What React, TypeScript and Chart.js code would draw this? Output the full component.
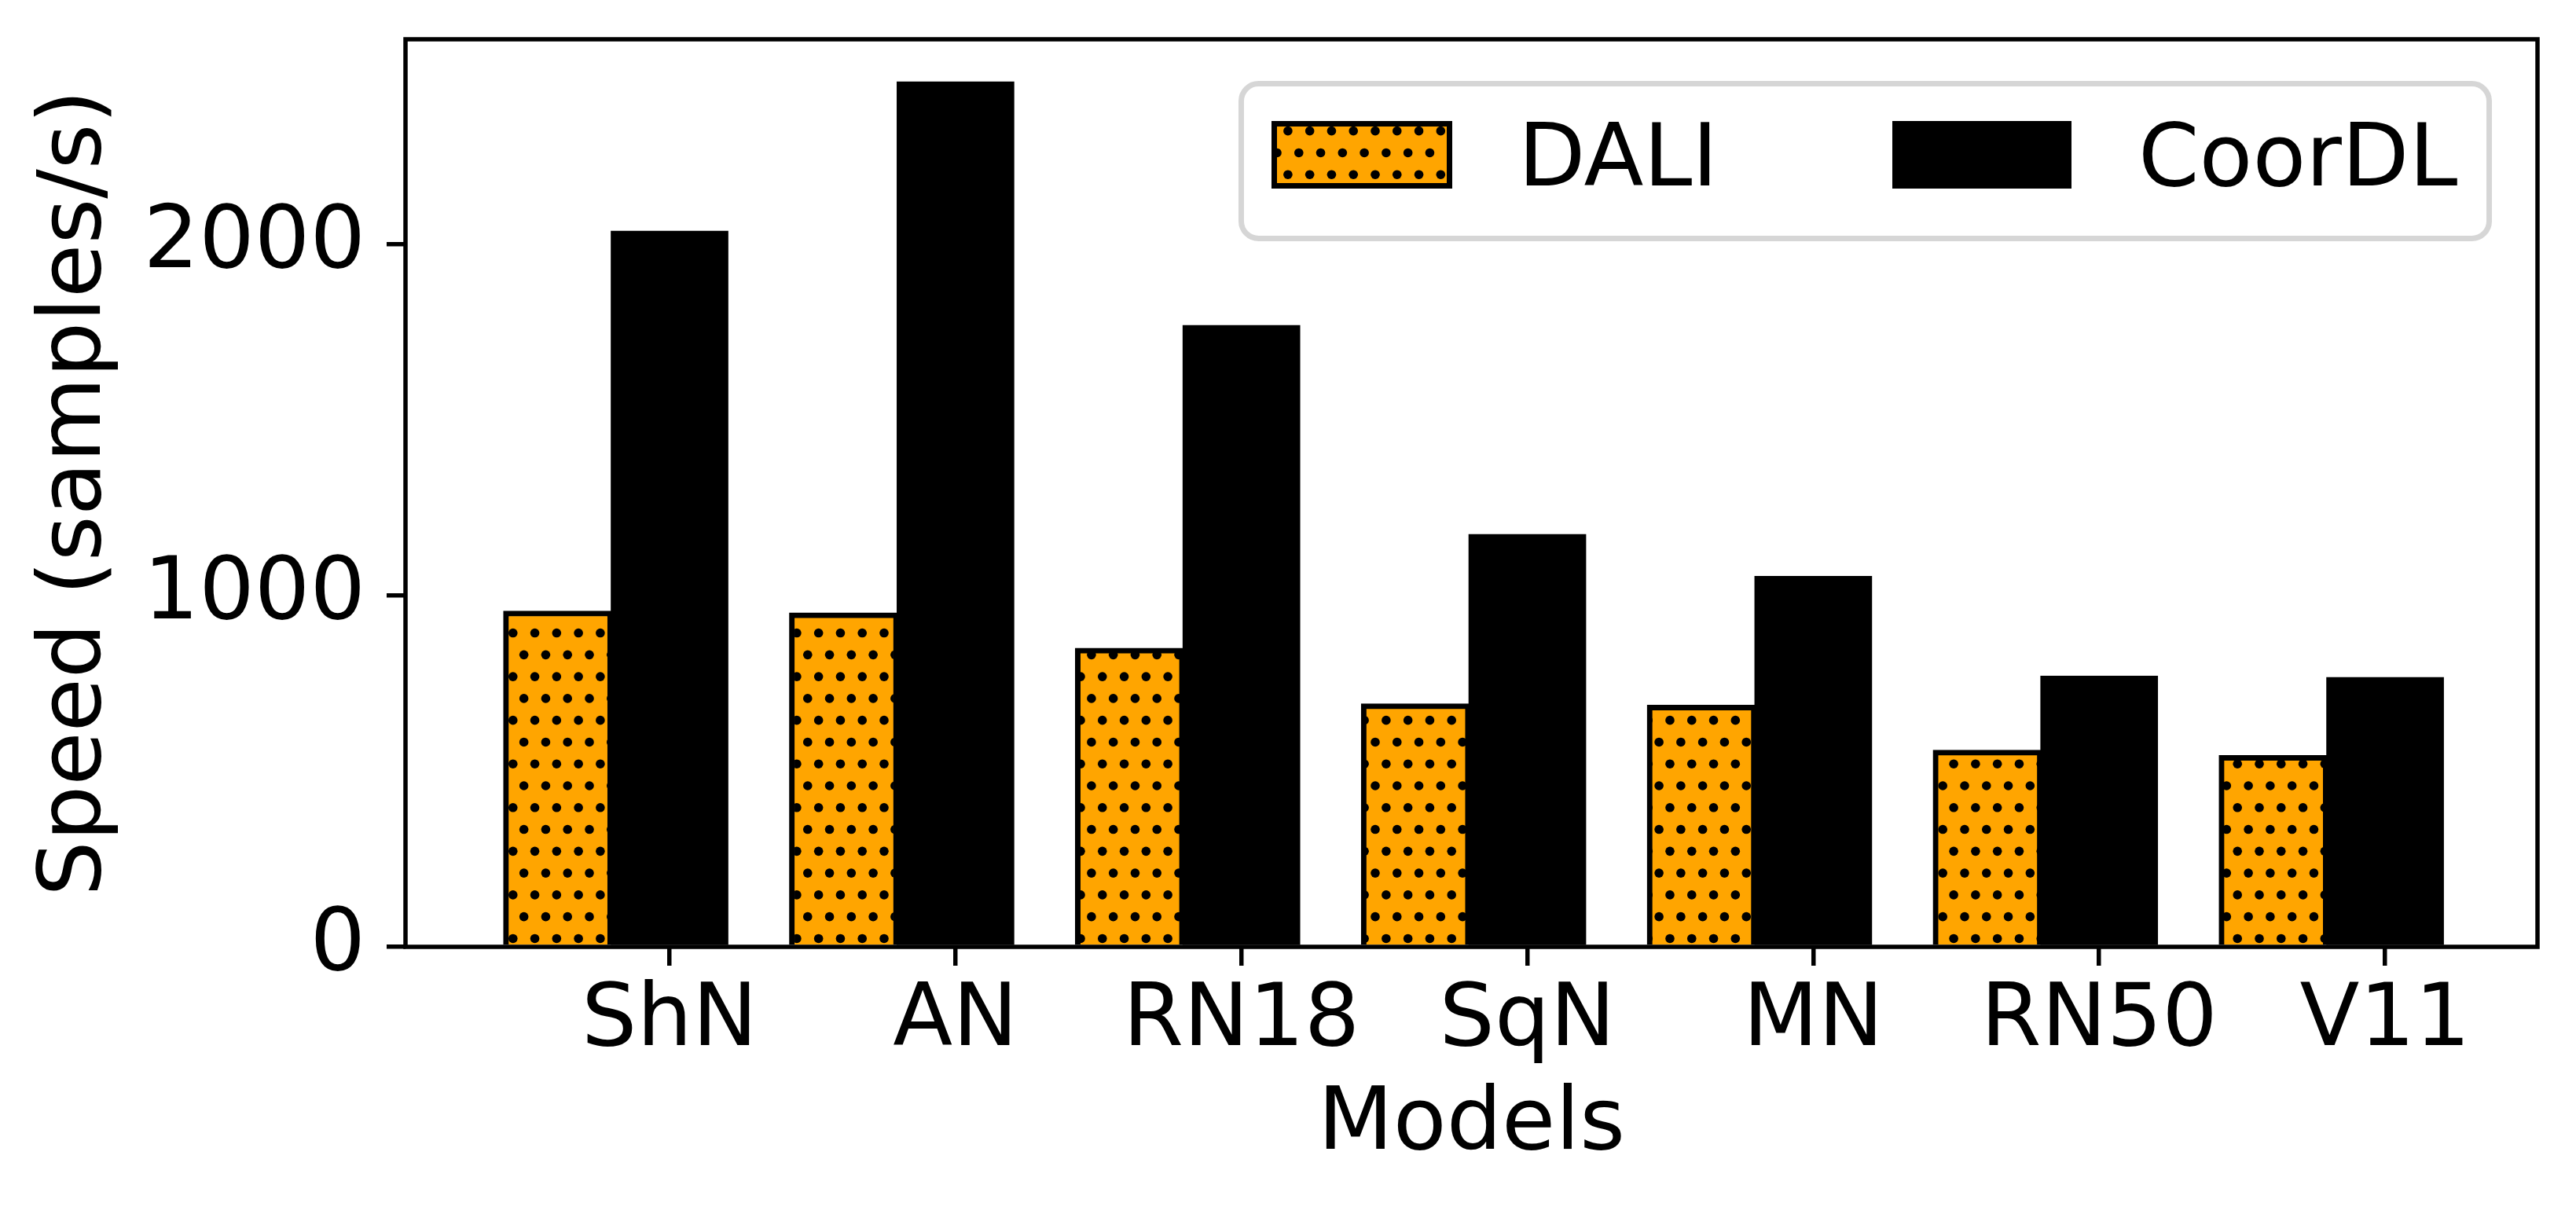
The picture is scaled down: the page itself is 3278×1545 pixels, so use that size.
import { useEffect, useRef } from 'react';
import { Chart, registerables } from 'chart.js';

Chart.register(...registerables);

const models = ['ShN', 'AN', 'RN18', 'SqN', 'MN', 'RN50', 'V11'];
const daliSpeed = [956, 951, 850, 692, 688, 560, 545];
const coordlSpeed = [2037, 2462, 1769, 1174, 1055, 771, 767];
const yTicks = [0, 1000, 2000];

const FONT = "'DejaVu Sans', sans-serif";
const ORANGE = '#FFA500';

// matplotlib-like '...' hatch: staggered black dots, 18 rows per 500px
function makeDots(): CanvasPattern | string {
  const tile = document.createElement('canvas');
  tile.width = 500;
  tile.height = 500;
  const c = tile.getContext('2d');
  if (!c) return ORANGE;
  c.fillStyle = ORANGE;
  c.fillRect(0, 0, 500, 500);
  const step = 500 / 18;
  c.fillStyle = '#000';
  for (let r = 0; r <= 18; r++) {
    for (let k = -1; k <= 18; k++) {
      const x = k * step + (r % 2 ? step / 2 : 0);
      const y = r * step;
      c.beginPath();
      c.arc(x, y, 5.8, 0, Math.PI * 2);
      c.fill();
    }
  }
  return c.createPattern(tile, 'repeat') ?? ORANGE;
}

export default function App() {
  const chartRef = useRef<HTMLCanvasElement>(null);
  const chartInstance = useRef<Chart | null>(null);

  useEffect(() => {
    if (!chartRef.current) return;
    if (chartInstance.current) chartInstance.current.destroy();

    const dots = makeDots();

    const framePlugin = {
      id: 'frame',
      afterDatasetsDraw(chart: any) {
        const { ctx, chartArea } = chart;
        ctx.save();
        ctx.strokeStyle = '#000';
        ctx.lineWidth = 5.5;
        ctx.strokeRect(chartArea.left, chartArea.top, chartArea.right - chartArea.left, chartArea.bottom - chartArea.top);
        ctx.restore();
      }
    };

    const legendPlugin = {
      id: 'boxLegend',
      afterDraw(chart: any) {
        const { ctx } = chart;
        ctx.save();
        // frame
        ctx.beginPath();
        ctx.roundRect(1579.5, 106.5, 1588, 197, 22);
        ctx.fillStyle = 'rgba(255,255,255,0.8)';
        ctx.fill();
        ctx.strokeStyle = '#d6d6d6';
        ctx.lineWidth = 7;
        ctx.stroke();
        // DALI swatch
        ctx.fillStyle = dots;
        ctx.fillRect(1621.5, 157.5, 223, 79);
        ctx.strokeStyle = '#000';
        ctx.lineWidth = 7;
        ctx.strokeRect(1621.5, 157.5, 223, 79);
        // CoorDL swatch
        ctx.fillStyle = '#000';
        ctx.fillRect(2408, 154, 228, 86);
        // labels
        ctx.font = `111px ${FONT}`;
        ctx.textBaseline = 'alphabetic';
        ctx.textAlign = 'left';
        ctx.fillStyle = '#000';
        ctx.fillText('DALI', 1932, 236);
        ctx.fillText('CoorDL', 2721, 236);
        ctx.restore();
      }
    };

    chartInstance.current = new Chart(chartRef.current, {
      type: 'bar',
      data: {
        datasets: [
          {
            label: 'DALI',
            data: models.map((_, i) => ({ x: i - 0.39, y: daliSpeed[i] })),
            backgroundColor: dots as any,
            borderColor: '#000',
            borderWidth: 7,
            barThickness: 139,
            grouped: false
          },
          {
            label: 'CoorDL',
            data: models.map((_, i) => ({ x: i, y: coordlSpeed[i] })),
            backgroundColor: '#000',
            borderWidth: 0,
            barThickness: 149,
            grouped: false
          }
        ]
      },
      options: {
        animation: false,
        responsive: false,
        devicePixelRatio: 1,
        events: [],
        layout: { padding: { top: 50, right: 49, left: 0, bottom: 0 } },
        plugins: {
          legend: { display: false },
          tooltip: { enabled: false }
        },
        scales: {
          x: {
            type: 'linear',
            offset: false,
            min: -0.9235,
            max: 6.533,
            afterBuildTicks: (s: any) => {
              s.ticks = models.map((_, i) => ({ value: i }));
            },
            afterFit: (s: any) => {
              s.height = 340;
              s.paddingLeft = 0;
              s.paddingRight = 0;
            },
            ticks: {
              autoSkip: false,
              maxRotation: 0,
              minRotation: 0,
              padding: 6,
              color: '#000',
              font: { family: FONT, size: 111 },
              callback: (v: any) => models[Math.round(Number(v))] ?? ''
            },
            grid: {
              display: true,
              offset: false,
              drawOnChartArea: false,
              drawTicks: true,
              tickLength: 24,
              tickWidth: 5.5,
              tickColor: '#000',
              color: '#000',
              lineWidth: 5.5
            },
            border: { display: false },
            title: {
              display: true,
              text: 'Models',
              color: '#000',
              font: { family: FONT, size: 111 },
              padding: { top: 0, bottom: 45 }
            }
          },
          y: {
            type: 'linear',
            min: 0,
            max: 2583,
            afterBuildTicks: (s: any) => {
              s.ticks = yTicks.map((v) => ({ value: v }));
            },
            afterFit: (s: any) => {
              s.width = 516;
              s.paddingTop = 0;
              s.paddingBottom = 0;
            },
            ticks: {
              padding: 27,
              color: '#000',
              font: { family: FONT, size: 111 },
              callback: (v: any) => String(v)
            },
            grid: {
              display: true,
              drawOnChartArea: false,
              drawTicks: true,
              tickLength: 24,
              tickWidth: 5.5,
              tickColor: '#000',
              color: '#000',
              lineWidth: 5.5
            },
            border: { display: false },
            title: {
              display: true,
              text: 'Speed (samples/s)',
              color: '#000',
              font: { family: FONT, size: 111 },
              padding: { top: 32, bottom: 0 }
            }
          }
        }
      },
      plugins: [framePlugin, legendPlugin]
    });

    return () => {
      if (chartInstance.current) {
        chartInstance.current.destroy();
        chartInstance.current = null;
      }
    };
  }, []);

  return (
    <div style={{ position: 'fixed', left: 0, top: 0, width: 3278, height: 1545, background: '#fff' }}>
      <canvas ref={chartRef} width={3278} height={1545} style={{ display: 'block', width: 3278, height: 1545 }} />
    </div>
  );
}
